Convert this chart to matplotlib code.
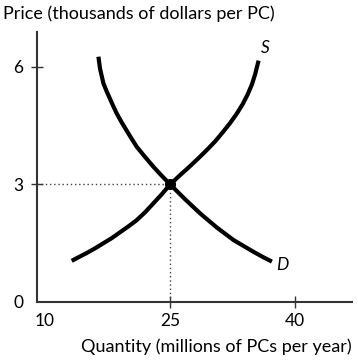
import matplotlib
matplotlib.use('Agg')
import matplotlib.pyplot as plt

# values
supply_q = [13.2, 14.0, 15.0, 16.0, 17.0, 18.0, 19.0, 20.0, 21.0, 22.0, 23.0, 24.0, 25.0,
            26.1, 27.2, 28.3, 29.4, 30.4, 31.3, 32.2, 33.0, 33.7, 34.3, 34.8, 35.2, 35.6]
supply_p = [1.05, 1.14, 1.25, 1.37, 1.50, 1.63, 1.78, 1.93, 2.09, 2.29, 2.52, 2.75, 3.0,
            3.22, 3.43, 3.65, 3.88, 4.10, 4.33, 4.57, 4.81, 5.05, 5.30, 5.55, 5.82, 6.16]
demand_q = [16.4, 16.6, 17.0, 17.4, 17.8, 18.2, 18.6, 19.2, 19.8, 20.4, 21.0, 22.0, 23.0,
            24.0, 25.0, 25.9, 26.8, 27.7, 28.6, 29.6, 30.6, 31.6, 32.6, 33.8, 35.0, 36.1, 37.2]
demand_p = [6.26, 5.95, 5.58, 5.37, 5.18, 4.99, 4.81, 4.58, 4.37, 4.16, 3.96, 3.70, 3.45,
            3.22, 3.0, 2.81, 2.62, 2.44, 2.26, 2.08, 1.90, 1.74, 1.58, 1.43, 1.28, 1.15, 1.03]
eq_q, eq_p = 25, 3
x_ticks = [10, 25, 40]
y_ticks = [0, 3, 6]

plt.rcParams['font.family'] = ['Lato', 'DejaVu Sans']

fig = plt.figure(figsize=(3.58, 3.60), dpi=100)
ax = fig.add_axes([37/358, 58/360, 315/358, 270/360])

x0 = 9.04
ax.set_xlim(x0, 46.8)
ax.set_ylim(0, 6.89)

ax.plot(supply_q, supply_p, color='black', lw=3, solid_capstyle='butt', solid_joinstyle='round')
ax.plot(demand_q, demand_p, color='black', lw=3, solid_capstyle='butt', solid_joinstyle='round')

# dotted guides to the equilibrium
ax.plot([x0, eq_q], [eq_p, eq_p], color='#444444', lw=1, ls=(0, (1, 2)))
ax.plot([eq_q, eq_q], [0, eq_p], color='#444444', lw=1, ls=(0, (1, 2)))
ax.plot(eq_q, eq_p, 'o', color='black', ms=7)

ax.text(supply_q[-1] + 0.3, 6.35, 'S', fontsize=12.5, style='italic')
ax.text(demand_q[-1] + 0.5, 0.82, 'D', fontsize=12.5, style='italic')

for s in ['top', 'right']:
    ax.spines[s].set_visible(False)
for s in ['left', 'bottom']:
    ax.spines[s].set_linewidth(1.5)
    ax.spines[s].set_color('#333333')

ax.set_xticks(x_ticks)
ax.set_yticks(y_ticks)
ax.tick_params(direction='inout', length=8, width=1, color='#333333',
               labelsize=12.5, pad=4)
ax.tick_params(axis='y', pad=6)
ax.xaxis.get_major_ticks()[0].tick1line.set_visible(False)
ax.yaxis.get_major_ticks()[0].tick1line.set_visible(False)

fig.text(3/358, 1 - 14/360, 'Price (thousands of dollars per PC)', fontsize=13, va='center', ha='left')
fig.text(352/358, 1 - 347/360, 'Quantity (millions of PCs per year)', fontsize=13, va='center', ha='right')

fig.savefig('out.png', dpi=100)
